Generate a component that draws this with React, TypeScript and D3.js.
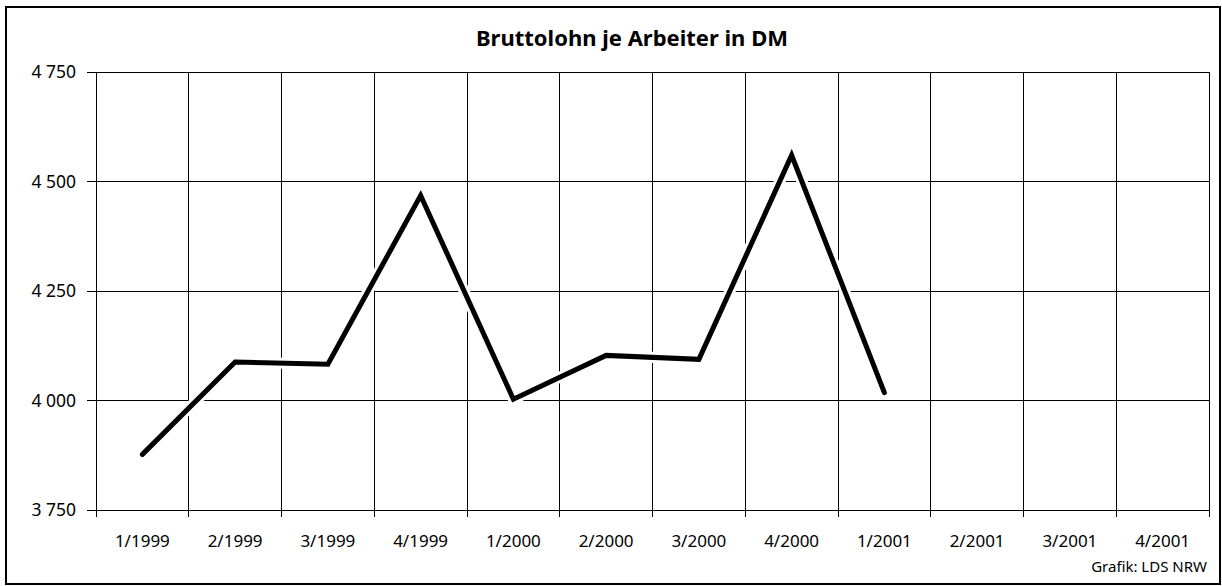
import { useMemo } from "react"
import * as d3 from "d3"

const categories = [
  "1/1999", "2/1999", "3/1999", "4/1999",
  "1/2000", "2/2000", "3/2000", "4/2000",
  "1/2001", "2/2001", "3/2001", "4/2001",
]
// Bruttolohn je Arbeiter (DM); null = noch keine Daten
const values: (number | null)[] = [3877, 4088, 4083, 4468, 4003, 4103, 4094, 4560, 4018, null, null, null]
const yTicks = [3750, 4000, 4250, 4500, 4750]

const title = "Bruttolohn je Arbeiter in DM"
const source = "Grafik: LDS NRW"

const W = 1222
const H = 586
const margin = { top: 72, right: 13, bottom: 76, left: 96 }
const font = "'Noto Sans', 'Open Sans', sans-serif"

export default function App() {
  const innerW = W - margin.left - margin.right
  const innerH = H - margin.top - margin.bottom

  const x = useMemo(() => d3.scaleBand().domain(categories).range([margin.left, margin.left + innerW]), [innerW])
  const y = useMemo(() => d3.scaleLinear().domain([3750, 4750]).range([margin.top + innerH, margin.top]), [innerH])

  const pts = categories
    .map((c, i) => ({ c, v: values[i] }))
    .filter((d) => d.v != null) as { c: string; v: number }[]

  const line = d3
    .line<{ c: string; v: number }>()
    .x((d) => (x(d.c) as number) + x.bandwidth() / 2)
    .y((d) => y(d.v))

  const path = line(pts) || ""
  const bottom = margin.top + innerH
  const right = margin.left + innerW
  const fmt = (v: number) => d3.format(",")(v).replace(",", " ")

  // category boundaries for vertical grid
  const bounds = categories.map((c) => x(c) as number).concat([right])

  return (
    <svg width={W} height={H} style={{ position: "absolute", left: 0, top: 0, background: "#fff" }}>
      <rect x={6} y={7} width={1214} height={577} fill="#fff" stroke="#000" strokeWidth={2} />

      <text x={632} y={46} textAnchor="middle" fontFamily={font} fontWeight="bold" fontSize={22} fill="#000">
        {title}
      </text>

      {/* horizontal grid + y ticks */}
      {yTicks.map((t) => (
        <g key={t}>
          <line x1={margin.left - 9} x2={right} y1={y(t)} y2={y(t)} stroke="#000" strokeWidth={1} shapeRendering="crispEdges" />
          <text x={76} y={y(t) + 6} textAnchor="end" fontFamily={font} fontSize={17.5} fill="#000">
            {fmt(t)}
          </text>
        </g>
      ))}

      {/* vertical grid + x ticks */}
      {bounds.map((b, i) => (
        <line key={i} x1={b} x2={b} y1={margin.top} y2={bottom + 7} stroke="#000" strokeWidth={1} shapeRendering="crispEdges" />
      ))}

      {categories.map((c) => (
        <text
          key={c}
          x={(x(c) as number) + x.bandwidth() / 2}
          y={547}
          textAnchor="middle"
          fontFamily={font}
          fontSize={17}
          fill="#000"
        >
          {c}
        </text>
      ))}

      {/* data line with white halo */}
      <path d={path} fill="none" stroke="#fff" strokeWidth={11} strokeLinejoin="miter" strokeLinecap="round" />
      <path d={path} fill="none" stroke="#000" strokeWidth={5} strokeLinejoin="miter" strokeLinecap="round" />

      <text x={1207} y={572} textAnchor="end" fontFamily={font} fontSize={15} fill="#000">
        {source}
      </text>
    </svg>
  )
}
